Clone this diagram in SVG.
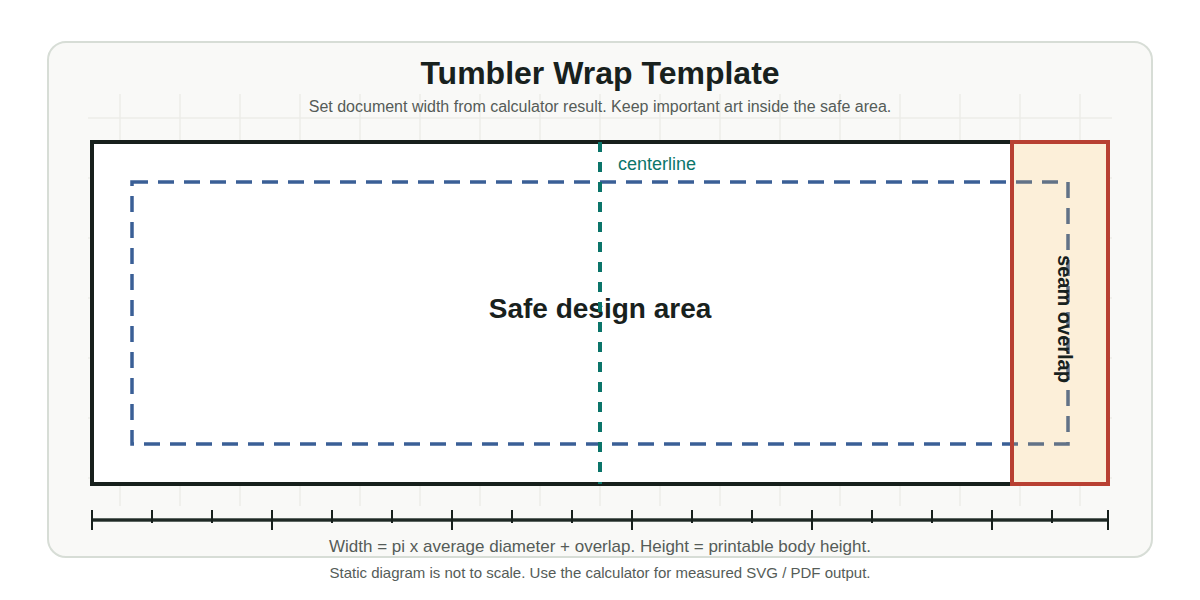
<svg xmlns="http://www.w3.org/2000/svg" width="1200" height="600" viewBox="0 0 1200 600">
  <style>
    .title{font-family:"Liberation Sans",Arial,sans-serif;font-weight:bold;font-size:32px;fill:#18211d;text-anchor:middle}
    .sub{font-family:"Liberation Sans",Arial,sans-serif;font-size:16px;fill:#555c58;text-anchor:middle}
    .formula{font-family:"Liberation Sans",Arial,sans-serif;font-size:17px;fill:#555c58;text-anchor:middle}
    .note{font-family:"Liberation Sans",Arial,sans-serif;font-size:15px;fill:#555c58;text-anchor:middle}
    .grid line{stroke:#ecede8;stroke-width:1.5}
    .tick{stroke:#17201c;stroke-width:2}
  </style>
  <rect x="0" y="0" width="1200" height="600" fill="#ffffff"/>
  <rect id="card" x="48" y="42" width="1104" height="515" rx="18" fill="#f9f9f7" stroke="#d7ddd6" stroke-width="2"/>
  <g class="grid">
    <line x1="88" y1="118" x2="1112" y2="118"/>
    <line x1="88" y1="178" x2="1112" y2="178"/>
    <line x1="88" y1="238" x2="1112" y2="238"/>
    <line x1="88" y1="298" x2="1112" y2="298"/>
    <line x1="88" y1="358" x2="1112" y2="358"/>
    <line x1="88" y1="418" x2="1112" y2="418"/>
    <line x1="88" y1="478" x2="1112" y2="478"/>
    <line x1="120" y1="94" x2="120" y2="506"/>
    <line x1="180" y1="94" x2="180" y2="506"/>
    <line x1="240" y1="94" x2="240" y2="506"/>
    <line x1="300" y1="94" x2="300" y2="506"/>
    <line x1="360" y1="94" x2="360" y2="506"/>
    <line x1="420" y1="94" x2="420" y2="506"/>
    <line x1="480" y1="94" x2="480" y2="506"/>
    <line x1="540" y1="94" x2="540" y2="506"/>
    <line x1="600" y1="94" x2="600" y2="506"/>
    <line x1="660" y1="94" x2="660" y2="506"/>
    <line x1="720" y1="94" x2="720" y2="506"/>
    <line x1="780" y1="94" x2="780" y2="506"/>
    <line x1="840" y1="94" x2="840" y2="506"/>
    <line x1="900" y1="94" x2="900" y2="506"/>
    <line x1="960" y1="94" x2="960" y2="506"/>
    <line x1="1020" y1="94" x2="1020" y2="506"/>
    <line x1="1080" y1="94" x2="1080" y2="506"/>
  </g>
  <text class="title" x="600" y="84">Tumbler Wrap Template</text>
  <text class="sub" x="600" y="112">Set document width from calculator result. Keep important art inside the safe area.</text>

  <g id="wrap">
    <rect x="92" y="142" width="1016" height="342" fill="#ffffff"/>
    <rect x="92" y="142" width="920" height="342" fill="#ffffff" stroke="#17201c" stroke-width="4"/>
  </g>
  <g id="safe-area">
    <rect x="132" y="182" width="936" height="262" fill="none" stroke="#3a5f96" stroke-width="3.5" stroke-dasharray="16 10"/>
    <text x="600" y="318" font-family="Liberation Sans, Arial, sans-serif" font-weight="bold" font-size="28" fill="#18211d" text-anchor="middle">Safe design area</text>
  </g>
  <g id="centerline">
    <line x1="600" y1="142" x2="600" y2="484" stroke="#0b756a" stroke-width="4" stroke-dasharray="10 10"/>
    <text x="618" y="170" font-family="Liberation Sans, Arial, sans-serif" font-size="18" fill="#0b756a">centerline</text>
  </g>
  <g id="seam-overlap">
    <rect x="1012" y="142" width="96" height="342" fill="#f1b751" fill-opacity="0.22" stroke="#b84032" stroke-width="4"/>
    <text transform="translate(1058,319) rotate(90)" font-family="Liberation Sans, Arial, sans-serif" font-weight="bold" font-size="20" fill="#18211d" text-anchor="middle">seam overlap</text>
  </g>

  <g id="ruler">
    <line x1="92" y1="520" x2="1108" y2="520" stroke="#5d6762" stroke-width="4"/>
    <line x1="92" y1="520" x2="1108" y2="520" stroke="#1f2925" stroke-width="2"/>
    <line class="tick" x1="92" y1="510" x2="92" y2="530"/>
    <line class="tick" x1="152" y1="510" x2="152" y2="523"/>
    <line class="tick" x1="212" y1="510" x2="212" y2="523"/>
    <line class="tick" x1="272" y1="510" x2="272" y2="530"/>
    <line class="tick" x1="332" y1="510" x2="332" y2="523"/>
    <line class="tick" x1="392" y1="510" x2="392" y2="523"/>
    <line class="tick" x1="452" y1="510" x2="452" y2="530"/>
    <line class="tick" x1="512" y1="510" x2="512" y2="523"/>
    <line class="tick" x1="572" y1="510" x2="572" y2="523"/>
    <line class="tick" x1="632" y1="510" x2="632" y2="530"/>
    <line class="tick" x1="692" y1="510" x2="692" y2="523"/>
    <line class="tick" x1="752" y1="510" x2="752" y2="523"/>
    <line class="tick" x1="812" y1="510" x2="812" y2="530"/>
    <line class="tick" x1="872" y1="510" x2="872" y2="523"/>
    <line class="tick" x1="932" y1="510" x2="932" y2="523"/>
    <line class="tick" x1="992" y1="510" x2="992" y2="530"/>
    <line class="tick" x1="1052" y1="510" x2="1052" y2="523"/>
    <line class="tick" x1="1108" y1="510" x2="1108" y2="530"/>
  </g>
  <text class="formula" x="600" y="552">Width = pi x average diameter + overlap. Height = printable body height.</text>
  <text class="note" x="600" y="578">Static diagram is not to scale. Use the calculator for measured SVG / PDF output.</text>
</svg>
